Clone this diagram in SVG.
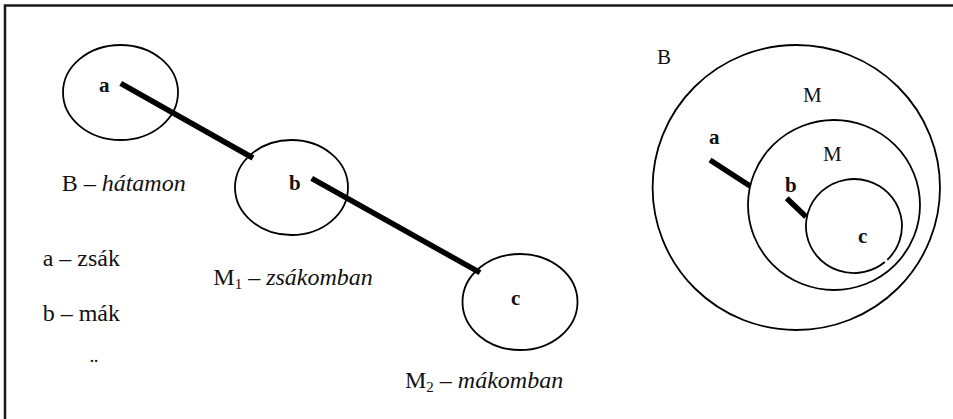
<svg xmlns="http://www.w3.org/2000/svg" width="953" height="419" viewBox="0 0 953 419">
<style>
.o{fill:none;stroke:#000;stroke-width:1.8}
.t{stroke:#000;stroke-width:5.5;stroke-linecap:butt}
.lbl{font-family:"Liberation Serif","Times New Roman",serif;font-size:24px;fill:#111}
.sm{font-family:"Liberation Serif","Times New Roman",serif;font-size:21px;fill:#111}
.bl{font-family:"Liberation Serif","Times New Roman",serif;font-size:21px;font-weight:bold;fill:#111}
.i{font-style:italic}
</style>
<rect width="953" height="419" fill="#fff"/>
<g id="frame"><path d="M5,419 V5.5 H953" fill="none" stroke="#1a1a1a" stroke-width="2.5"/></g>
<g id="node-a"><ellipse class="o" cx="120.5" cy="92.5" rx="57.5" ry="47.5"/><text class="bl" x="99" y="92">a</text></g>
<g id="node-b"><ellipse class="o" cx="291.5" cy="187.5" rx="56.5" ry="47.5"/><text class="bl" x="289" y="190">b</text></g>
<g id="node-c"><ellipse class="o" cx="520" cy="302" rx="57.5" ry="48"/><text class="bl" x="511" y="305">c</text></g>
<g id="connectors">
<line class="t" x1="120.7" y1="83.3" x2="253" y2="158"/>
<line class="t" x1="311.7" y1="178.3" x2="480" y2="272.7"/>
<line class="t" x1="710" y1="160" x2="750" y2="186"/>
<line class="t" x1="786.7" y1="198.3" x2="806" y2="216.7"/>
</g>
<g id="legend">
<text class="lbl" x="61.7" y="190.7">B – <tspan class="i">hátamon</tspan></text>
<text class="lbl" x="42.7" y="265.7">a – zsák</text>
<text class="lbl" x="42.7" y="320.7">b – mák</text>
<text class="lbl" x="90" y="374" font-size="16">¨</text>
<text class="lbl" x="213.3" y="285">M<tspan font-size="15" dy="4">1</tspan><tspan dy="-4"> – </tspan><tspan class="i">zsákomban</tspan></text>
<text class="lbl" x="405" y="388">M<tspan font-size="15" dy="4">2</tspan><tspan dy="-4"> – </tspan><tspan class="i">mákomban</tspan></text>
</g>
<g id="set-B"><ellipse class="o" cx="796.3" cy="187.5" rx="143.7" ry="142.5"/><text class="sm" x="657" y="64.3">B</text></g>
<g id="set-M1"><ellipse class="o" cx="834" cy="205" rx="86" ry="85"/><text class="sm" x="803" y="101.7">M</text></g>
<g id="set-M2"><path class="o" d="M884.85,262 A48,47 0 1 1 887.34,259.8"/><text class="sm" x="823" y="161">M</text></g>
<g id="right-labels">
<text class="bl" x="709" y="144">a</text>
<text class="bl" x="785" y="192">b</text>
<text class="bl" x="858" y="243">c</text>
</g>
</svg>
